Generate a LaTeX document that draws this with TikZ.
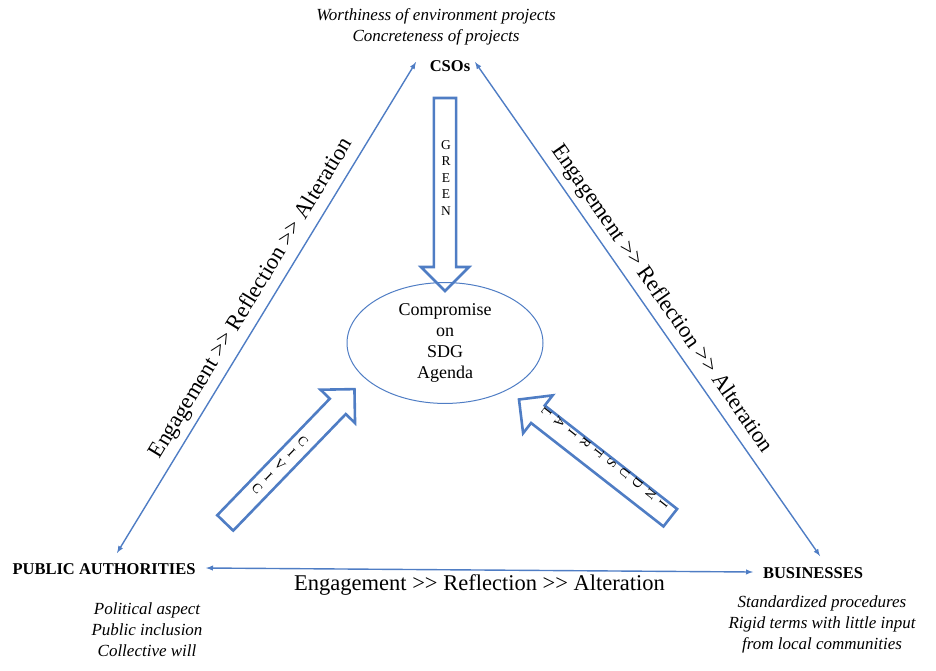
\documentclass[tikz,border=0pt]{standalone}
\usepackage{fontspec}
\setmainfont{Liberation Serif}
\usetikzlibrary{positioning,shapes.arrows,shapes.geometric}
\definecolor{lineblue}{RGB}{79,125,196}
\newcommand{\eraloop}{Engagement >{}> Reflection >{}> Alteration}
\tikzset{%
  actor/.style={font=\fontsize{16.5}{18}\selectfont\bfseries},
  note/.style={font=\fontsize{17}{21}\selectfont\itshape,align=center},
  side/.style={font=\fontsize{22.5}{24}\selectfont},
  link/.style={<->,>=latex,draw=lineblue,line width=1.4pt},
  fat arrow/.style={single arrow,draw=lineblue,line width=2.6pt,inner sep=9pt,
    minimum width=48pt,single arrow head extend=12pt,single arrow tip angle=90},
  stack/.style={font=\fontsize{13.5}{16.5}\selectfont,align=center},
}
\begin{document}
\begin{tikzpicture}[x=1pt,y=-1pt]
        \useasboundingbox (0,0) rectangle (936,670);

        \node[actor] (cso) at (450,66) {CSOs};
        \node[actor] (pub) at (104,569) {PUBLIC AUTHORITIES};
        \node[actor] (bus) at (813,573) {BUSINESSES};

        \node[note] at (436,27) {Worthiness of environment projects\\Concreteness of projects};
        \node[note] at (147,630) {Political aspect\\Public inclusion\\Collective will};
        \node[note] at (822,624) {Standardized procedures\\Rigid terms with little input\\from local communities};

        \node[draw=lineblue,line width=1pt,ellipse,minimum width=196,minimum height=112,
          font=\fontsize{18}{21}\selectfont,align=center] (sdg) at (445,343)
          {Compromise\\on\\SDG\\Agenda};

        \coordinate (pa) at (117,553);
        \coordinate (pb) at (206,568);
        \coordinate (ca) at (416,62);
        \coordinate (cb) at (475,62);
        \coordinate (ba) at (820,556);
        \coordinate (bb) at (753,572);
        \draw[link] (pa) -- node[side,sloped,above=3pt] {\eraloop} (ca);
        \draw[link] (cb) -- node[side,sloped,above=3pt] {\eraloop} (ba);
        \draw[link] (pb) -- node[side,below=1pt] {\eraloop} (bb);

        \node[fat arrow,minimum height=193,rotate=-90] (green) at (445,189) {};
        \node[stack] at (446,178) {G\\R\\E\\E\\N};
        \node[fat arrow,minimum height=186,rotate=46] (civic) at (286,460) {};
        \node[stack] [rotate=-44] at (280,465) {C\\I\\V\\I\\C};
        \node[fat arrow,minimum height=192,rotate=142] (indus) at (599,462) {};
        \node[stack,rotate=232] at (605,458) {I\\N\\D\\U\\S\\T\\R\\I\\A\\L};
\end{tikzpicture}
\end{document}
